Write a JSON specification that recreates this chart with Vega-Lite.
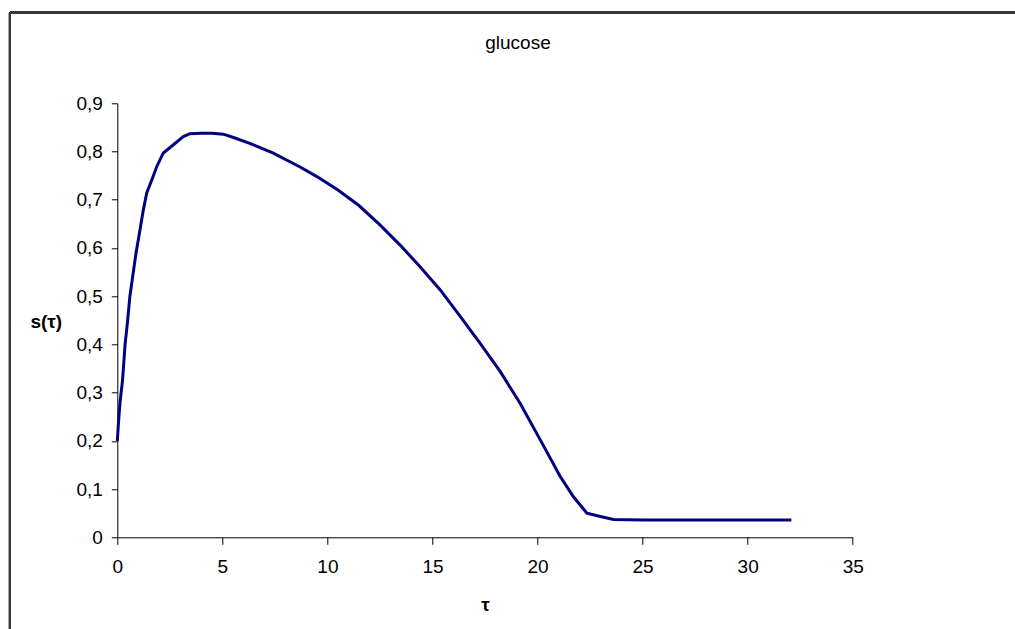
{
  "$schema": "https://vega.github.io/schema/vega-lite/v6.json",
  "autosize": "none",
  "width": 735.4,
  "height": 434,
  "padding": {"left": 117.3, "top": 103.3, "right": 162.3, "bottom": 91.7},
  "background": "white",
  "title": {
    "text": "glucose",
    "font": "Liberation Sans",
    "fontSize": 19,
    "fontWeight": "normal",
    "color": "#000000",
    "anchor": "middle",
    "frame": "group",
    "baseline": "alphabetic",
    "offset": -57,
    "dx": 33
  },
  "config": {
    "view": {"stroke": null},
    "axis": {
      "labelFont": "Liberation Sans",
      "labelFontSize": 19,
      "labelColor": "#000000",
      "titleFont": "Liberation Sans",
      "titleFontSize": 19,
      "titleFontWeight": "bold",
      "titleColor": "#000000",
      "domainColor": "#000000",
      "domainWidth": 1,
      "tickColor": "#000000",
      "tickWidth": 1,
      "grid": false
    }
  },
  "data": {
    "values": [
      {"t": 0, "s": 0.2},
      {"t": 0.06, "s": 0.24},
      {"t": 0.13, "s": 0.28},
      {"t": 0.25, "s": 0.326},
      {"t": 0.37, "s": 0.4},
      {"t": 0.48, "s": 0.444},
      {"t": 0.6, "s": 0.5},
      {"t": 0.73, "s": 0.54},
      {"t": 0.89, "s": 0.589},
      {"t": 1.05, "s": 0.63},
      {"t": 1.24, "s": 0.679},
      {"t": 1.4, "s": 0.714},
      {"t": 1.64, "s": 0.741},
      {"t": 1.88, "s": 0.769},
      {"t": 2.19, "s": 0.797},
      {"t": 2.67, "s": 0.814},
      {"t": 3.14, "s": 0.831},
      {"t": 3.46, "s": 0.837},
      {"t": 4.0, "s": 0.838},
      {"t": 4.5, "s": 0.838},
      {"t": 5.05, "s": 0.836},
      {"t": 5.6, "s": 0.828},
      {"t": 6.3, "s": 0.817},
      {"t": 7.4, "s": 0.797},
      {"t": 8.7, "s": 0.768},
      {"t": 9.5, "s": 0.748},
      {"t": 10.5, "s": 0.72},
      {"t": 11.5, "s": 0.688},
      {"t": 12.5, "s": 0.648},
      {"t": 13.46, "s": 0.606},
      {"t": 14.41, "s": 0.561},
      {"t": 15.37, "s": 0.513},
      {"t": 16.32, "s": 0.458},
      {"t": 17.27, "s": 0.402},
      {"t": 18.22, "s": 0.344},
      {"t": 19.17, "s": 0.278},
      {"t": 20.13, "s": 0.202},
      {"t": 21.08, "s": 0.126},
      {"t": 21.71, "s": 0.084},
      {"t": 22.35, "s": 0.05},
      {"t": 22.99, "s": 0.043},
      {"t": 23.62, "s": 0.037},
      {"t": 25, "s": 0.036},
      {"t": 28, "s": 0.036},
      {"t": 32.08, "s": 0.036}
    ]
  },
  "layer": [
    {
      "mark": {"type": "line", "color": "#000080", "strokeWidth": 3, "interpolate": "linear"},
      "encoding": {
        "x": {
          "field": "t",
          "type": "quantitative",
          "scale": {"domain": [0, 35], "nice": false, "zero": false},
          "axis": {
            "title": "τ",
            "values": [0, 5, 10, 15, 20, 25, 30, 35],
            "tickSize": 7,
            "labelPadding": 13,
            "labelFlush": false,
            "titleBaseline": "alphabetic",
            "titleY": 72.7,
            "titleAnchor": "middle"
          }
        },
        "y": {
          "field": "s",
          "type": "quantitative",
          "scale": {"domain": [0, 0.9], "nice": false, "zero": false},
          "axis": {
            "title": "s(τ)",
            "values": [0, 0.1, 0.2, 0.3, 0.4, 0.5, 0.6, 0.7, 0.8, 0.9],
            "labelExpr": "datum.value == 0 ? '0' : replace(format(datum.value, '.1f'), '.', ',')",
            "tickSize": 6,
            "labelPadding": 9,
            "labelFlush": false,
            "titleAngle": 0,
            "titleAlign": "center",
            "titleBaseline": "alphabetic",
            "titleX": -71.5,
            "titleY": 223.7
          }
        }
      }
    },
    {
      "mark": {"type": "rule", "color": "#3a3a3a", "strokeWidth": 2},
      "encoding": {
        "x": {"datum": -5.107, "type": "quantitative"},
        "y": {"datum": 1.0888, "type": "quantitative"},
        "y2": {"datum": -0.4}
      }
    },
    {
      "mark": {"type": "rule", "color": "#3a3a3a", "strokeWidth": 2},
      "encoding": {
        "y": {"datum": 1.0888, "type": "quantitative"},
        "x": {"datum": -5.107, "type": "quantitative"},
        "x2": {"datum": 45}
      }
    }
  ]
}
